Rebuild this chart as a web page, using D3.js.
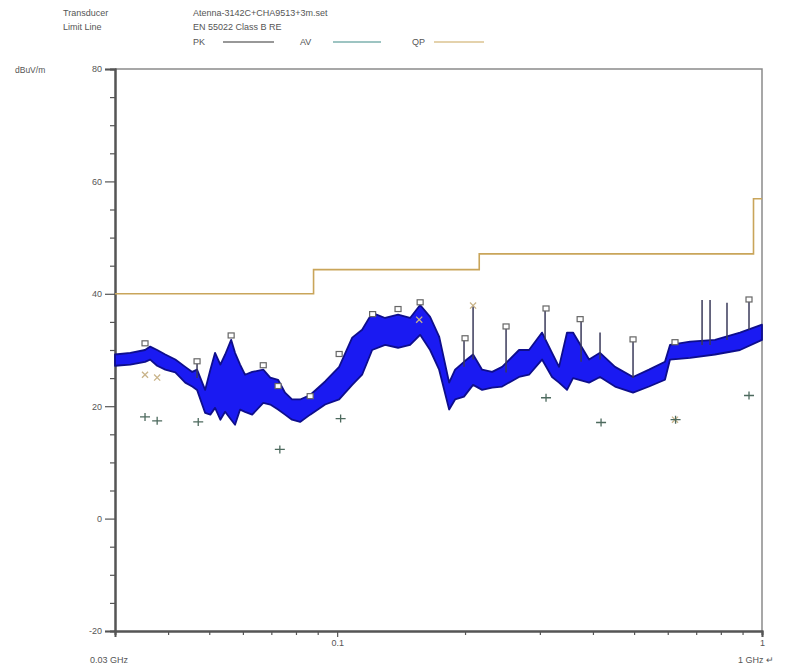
<!DOCTYPE html>
<html>
<head>
<meta charset="utf-8">
<title>EN 55022 Class B RE scan</title>
<style>
body { margin: 0; background: #fff; }
text { font-family: Arial, "Liberation Sans", sans-serif; fill: #555; }
</style>
</head>
<body>
<div id="chart"></div>
<script src="https://cdnjs.cloudflare.com/ajax/libs/d3/7.8.5/d3.min.js"></script>
<script>
    // PK trace envelope (GHz, dBuV/m)
    var traceFreq = [0.0300, 0.0326, 0.0353, 0.0363, 0.0377, 0.0394, 0.0416, 0.0439, 0.0456, 0.0468,
                     0.0489, 0.0503, 0.0516, 0.0531, 0.0545, 0.0563, 0.0575, 0.0591, 0.0607, 0.0631,
                     0.0670, 0.0696, 0.0726, 0.0754, 0.0783, 0.0818, 0.0864, 0.0937, 0.1011, 0.1085,
                     0.1145, 0.1209, 0.1297, 0.1391, 0.1485, 0.1568, 0.1655, 0.1738, 0.1835, 0.1895,
                     0.1989, 0.2089, 0.2194, 0.2316, 0.2445, 0.2680, 0.2829, 0.3036, 0.3205, 0.3329,
                     0.3476, 0.3591, 0.3917, 0.4157, 0.4509, 0.4971, 0.5421, 0.5910, 0.6074, 0.6772,
                     0.7751, 0.8875, 1.0000];
    var traceUpper = [29.2, 29.5, 30.0, 30.6, 30.0, 29.2, 28.3, 27.0, 26.1, 26.5,
                      22.9, 26.5, 29.5, 27.4, 29.2, 31.8, 29.5, 27.4, 25.6, 26.1,
                      26.5, 25.1, 24.7, 22.4, 21.2, 21.2, 22.0, 24.4, 27.0, 32.2,
                      33.6, 36.6, 35.7, 36.3, 35.7, 38.0, 35.9, 32.4, 24.2, 26.5,
                      27.9, 29.2, 26.5, 26.1, 27.0, 30.0, 30.0, 33.1, 29.5, 27.0,
                      33.1, 33.1, 28.3, 29.5, 27.0, 25.2, 26.5, 27.9, 30.9, 31.5,
                      31.8, 33.1, 34.5];
    var traceLower = [27.2, 27.4, 27.9, 28.3, 27.2, 26.5, 26.0, 24.2, 23.5, 22.9,
                      18.8, 18.5, 19.7, 17.6, 19.0, 17.6, 16.7, 19.4, 19.0, 18.5,
                      20.6, 20.3, 19.4, 18.5, 17.6, 17.2, 18.5, 20.3, 21.2, 23.8,
                      25.6, 30.0, 30.9, 30.4, 30.9, 32.7, 30.0, 26.5, 19.4, 21.2,
                      21.7, 23.8, 22.9, 23.3, 23.5, 25.2, 25.6, 28.3, 25.2, 24.2,
                      22.9, 25.0, 24.2, 25.2, 23.5, 22.4, 23.5, 24.7, 28.3, 28.6,
                      29.2, 30.0, 31.8];

    // narrow spikes sticking out of the trace
    var spikeFreq = [0.0468, 0.1989, 0.2089, 0.2498, 0.3086, 0.3751, 0.4157, 0.4971, 0.7227, 0.7546, 0.8272, 0.9320];
    var spikeTop  = [27.9, 32.2, 37.9, 34.1, 37.3, 35.4, 33.1, 31.8, 38.9, 38.9, 38.4, 38.9];
    var spikeBase = [25.0, 27.0, 28.3, 26.0, 31.8, 27.9, 28.3, 25.0, 30.9, 30.9, 31.8, 33.6];

    // peak markers (squares)
    var peakFreq  = [0.0353, 0.0468, 0.0563, 0.0670, 0.0726, 0.0864, 0.1011, 0.1212, 0.1391, 0.1568,
                     0.2000, 0.2498, 0.3102, 0.3732, 0.4971, 0.6241, 0.9320];
    var peakLevel = [31.1, 27.9, 32.5, 27.2, 23.5, 21.7, 29.2, 36.3, 37.2, 38.4,
                     32.0, 34.1, 37.3, 35.4, 31.8, 31.3, 38.9];

    // QP final measurements (x)
    var qpFreq  = [0.0353, 0.0377, 0.1560, 0.2089, 0.6241];
    var qpLevel = [25.6, 25.1, 35.4, 37.9, 17.6];

    // AV final measurements (+)
    var avFreq  = [0.0353, 0.0377, 0.0471, 0.0733, 0.1019, 0.3102, 0.4180, 0.6260, 0.9320];
    var avLevel = [18.1, 17.4, 17.2, 12.3, 17.8, 21.5, 17.1, 17.6, 21.9];

    // limit line steps
    var limitFreq  = [0.030, 0.088, 0.216, 0.955, 1.000];
    var limitLevel = [40.0, 44.3, 47.1, 56.9, 56.9];

    var yMajor = [-20, 0, 20, 40, 60, 80];
    var xMinor = [0.04, 0.05, 0.06, 0.07, 0.08, 0.09, 0.2, 0.3, 0.4, 0.5, 0.6, 0.7, 0.8, 0.9];

    var w = 792, h = 671;
    var margin = {top: 69, right: 30, bottom: 40, left: 115};

    var svg = d3.select("#chart")
                .append("svg")
                .attr("width", w)
                .attr("height", h);

    var xScale = d3.scaleLog()
                   .domain([0.03, 1])
                   .range([margin.left, w - margin.right]);

    var yScale = d3.scaleLinear()
                   .domain([-20, 80])
                   .range([h - margin.bottom, margin.top]);

    // header block
    var header = svg.append("g").attr("font-size", "9px");
    header.append("text").attr("x", 63).attr("y", 16).text("Transducer");
    header.append("text").attr("x", 63).attr("y", 30).text("Limit Line");
    header.append("text").attr("x", 193).attr("y", 16).text("Atenna-3142C+CHA9513+3m.set");
    header.append("text").attr("x", 193).attr("y", 30).text("EN 55022 Class B RE");

    var legend = [
        {name: "PK", x: 193, x1: 223, x2: 274, color: "#333"},
        {name: "AV", x: 300, x1: 333, x2: 381, color: "#3d8a86"},
        {name: "QP", x: 412, x1: 434, x2: 484, color: "#c9a55a"}
    ];
    legend.forEach(function(d) {
        header.append("text").attr("x", d.x).attr("y", 45).text(d.name);
        header.append("line")
              .attr("x1", d.x1).attr("x2", d.x2)
              .attr("y1", 42).attr("y2", 42)
              .attr("stroke", d.color)
              .attr("stroke-width", 1.2);
    });

    // frame top and right
    svg.append("path")
       .attr("d", "M" + xScale(0.03) + "," + yScale(80) + "H" + xScale(1) + "V" + yScale(-20))
       .attr("fill", "none")
       .attr("stroke", "#8a8a8a")
       .attr("stroke-width", 1.5);

    // y axis, majors labelled, minors every 5
    var yAxis = svg.append("g")
                   .attr("transform", "translate(" + margin.left + ",0)");
    yAxis.call(d3.axisLeft(yScale).tickValues(yMajor).tickSize(10).tickPadding(3)
                 .tickFormat(function(d) { return String(d); }));
    yAxis.append("g")
         .call(d3.axisLeft(yScale).tickValues(d3.range(-20, 81, 5).filter(function(v) { return v % 20 !== 0; }))
         .tickSize(5).tickFormat(""));
    yAxis.selectAll("path.domain").attr("stroke", "#555").attr("stroke-width", 2);
    yAxis.selectAll(".tick line").attr("stroke", "#555").attr("stroke-width", 1.2);
    yAxis.selectAll("text").attr("font-size", "9px").style("fill", "#555");

    svg.append("text")
       .attr("x", 15).attr("y", 73)
       .attr("font-size", "8.5px")
       .text("dBuV/m");

    // x axis, log ticks
    var xAxis = svg.append("g")
                   .attr("transform", "translate(0," + (h - margin.bottom) + ")");
    xAxis.call(d3.axisBottom(xScale).tickValues([0.1, 1]).tickSize(6).tickPadding(3)
                 .tickFormat(function(d) { return String(d); }));
    xAxis.append("g")
         .call(d3.axisBottom(xScale).tickValues(xMinor).tickSize(4).tickFormat(""));
    xAxis.selectAll("path.domain").attr("stroke", "#555").attr("stroke-width", 2);
    xAxis.selectAll(".tick line").attr("stroke", "#555").attr("stroke-width", 1.2);
    xAxis.selectAll("text").attr("font-size", "9px").style("fill", "#555");

    svg.append("text")
       .attr("x", 90).attr("y", 663)
       .attr("font-size", "9px")
       .text("0.03 GHz");
    svg.append("text")
       .attr("x", 738).attr("y", 663)
       .attr("font-size", "9px")
       .text("1 GHz \u21b5");

    // limit line
    var limitLine = d3.line()
                      .x(function(d, i) { return xScale(limitFreq[i]); })
                      .y(function(d) { return yScale(d); })
                      .curve(d3.curveStepAfter);
    svg.append("path")
       .attr("d", limitLine(limitLevel))
       .attr("fill", "none")
       .attr("stroke", "#c9a55a")
       .attr("stroke-width", 1.6);

    // PK trace as a band between envelopes
    var band = d3.area()
                 .x(function(d, i) { return xScale(traceFreq[i]); })
                 .y0(function(d, i) { return yScale(traceLower[i]); })
                 .y1(function(d) { return yScale(d); });
    svg.append("path")
       .attr("d", band(traceUpper))
       .attr("fill", "#1a1af2")
       .attr("stroke", "#0e0e8c")
       .attr("stroke-width", 1.8)
       .attr("stroke-linejoin", "round");

    // spikes
    svg.append("g")
       .selectAll("line")
       .data(spikeFreq)
       .enter().append("line")
       .attr("x1", function(d) { return xScale(d); })
       .attr("x2", function(d) { return xScale(d); })
       .attr("y1", function(d, i) { return yScale(spikeTop[i]); })
       .attr("y2", function(d, i) { return yScale(spikeBase[i]); })
       .attr("stroke", "#3a3a5a")
       .attr("stroke-width", 1.5);

    // peak squares
    svg.append("g")
       .selectAll("rect")
       .data(peakFreq)
       .enter().append("rect")
       .attr("x", function(d) { return xScale(d) - 3; })
       .attr("y", function(d, i) { return yScale(peakLevel[i]) - 3; })
       .attr("width", 6)
       .attr("height", 5)
       .attr("fill", "#fff")
       .attr("stroke", "#666")
       .attr("stroke-width", 1.2);

    // QP crosses
    svg.append("g")
       .selectAll("path")
       .data(qpFreq)
       .enter().append("path")
       .attr("d", d3.symbol().type(d3.symbolX).size(26))
       .attr("transform", function(d, i) { return "translate(" + xScale(d) + "," + yScale(qpLevel[i]) + ")"; })
       .attr("fill", "none")
       .attr("stroke", "#c9b48a")
       .attr("stroke-width", 1.3);

    // AV plus marks
    svg.append("g")
       .selectAll("path")
       .data(avFreq)
       .enter().append("path")
       .attr("transform", function(d, i) { return "translate(" + xScale(d) + "," + yScale(avLevel[i]) + ")"; })
       .attr("d", "M-5,0H5M0,-4V4")
       .attr("fill", "none")
       .attr("stroke", "#4d6a5e")
       .attr("stroke-width", 1.3);
</script>
</body>
</html>
